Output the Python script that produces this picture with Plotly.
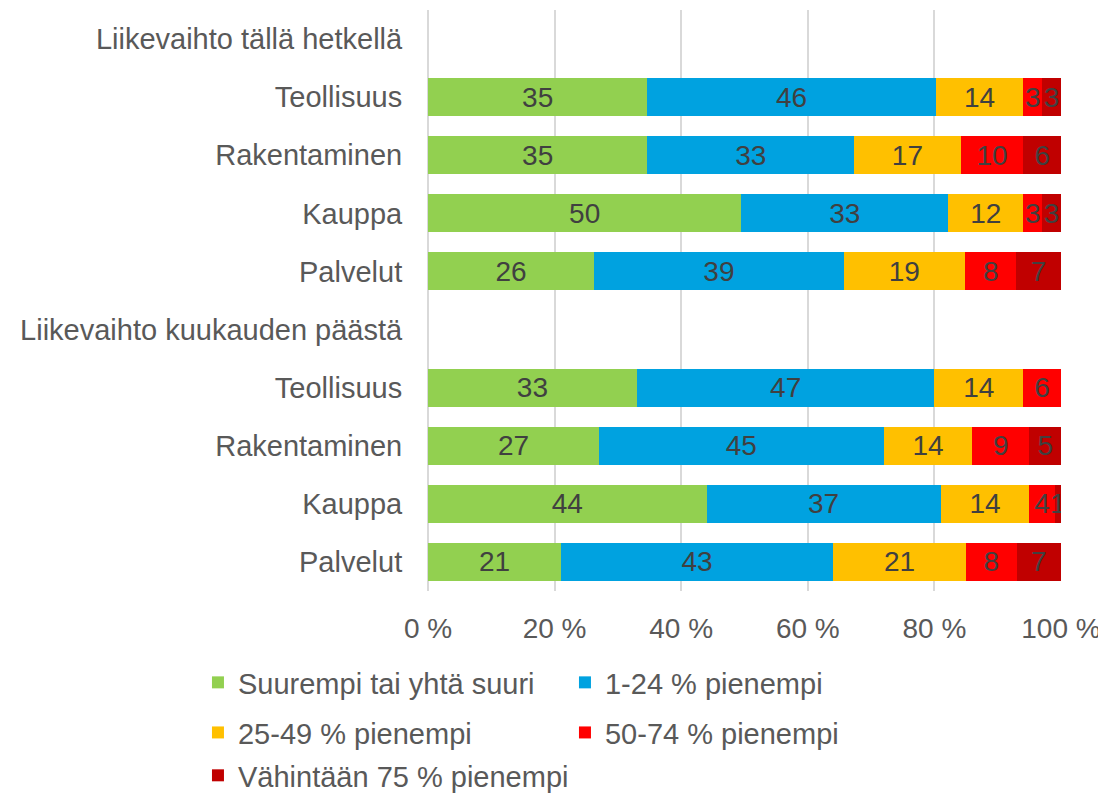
import plotly.graph_objects as go

rows = ["Liikevaihto tällä hetkellä", "Teollisuus", "Rakentaminen", "Kauppa", "Palvelut",
        "Liikevaihto kuukauden päästä", "Teollisuus", "Rakentaminen", "Kauppa", "Palvelut"]

series_names = ["Suurempi tai yhtä suuri", "1-24 % pienempi", "25-49 % pienempi",
                "50-74 % pienempi", "Vähintään 75 % pienempi"]
colors = ["#92D050", "#00A2E0", "#FFC000", "#FF0000", "#C00000"]
legend_ids = ["legend", "legend", "legend2", "legend2", "legend3"]

suurempi = [None, 35, 35, 50, 26, None, 33, 27, 44, 21]
p1_24 = [None, 46, 33, 33, 39, None, 47, 45, 37, 43]
p25_49 = [None, 14, 17, 12, 19, None, 14, 14, 14, 21]
p50_74 = [None, 3, 10, 3, 8, None, 6, 9, 4, 8]
p75 = [None, 3, 6, 3, 7, None, None, 5, 1, 7]

all_values = [suurempi, p1_24, p25_49, p50_74, p75]
ypos = list(range(len(rows)))

FONT = "Liberation Sans, Arial"

fig = go.Figure()
for name, vals, col, lg in zip(series_names, all_values, colors, legend_ids):
    fig.add_trace(go.Bar(
        y=ypos, x=vals, name=name, orientation="h", legend=lg,
        marker=dict(color=col, line=dict(width=0)),
        text=[("" if v is None else str(v)) for v in vals],
        textposition="inside", insidetextanchor="middle",
        constraintext="none",
        textfont=dict(color="#404040", size=28, family=FONT),
        hoverinfo="skip",
    ))

leg_common = dict(orientation="h", xanchor="left", yanchor="middle",
                  traceorder="normal", entrywidthmode="pixels",
                  font=dict(size=29, color="#595959", family=FONT),
                  bgcolor="rgba(0,0,0,0)")
legx = -0.3634

fig.update_layout(
    barmode="stack", barnorm="percent", bargap=0.345,
    width=1106, height=795,
    margin=dict(l=420, r=53, t=2, b=209),
    plot_bgcolor="white", paper_bgcolor="white",
    font=dict(family=FONT, size=29, color="#595959"),
    xaxis=dict(range=[0, 100], dtick=20, ticksuffix=" %", showgrid=True,
               gridcolor="#D9D9D9", gridwidth=1.5, zeroline=True, zerolinecolor="#D9D9D9",
               zerolinewidth=1.5, ticks="outside", ticklen=12, tickcolor="rgba(0,0,0,0)",
               tickfont=dict(size=28, color="#595959"), fixedrange=True),
    yaxis=dict(tickmode="array", tickvals=ypos, ticktext=rows, autorange="reversed",
               ticks="outside", ticklen=19, tickcolor="rgba(0,0,0,0)",
               showgrid=False, zeroline=False, tickfont=dict(size=29, color="#595959")),
    legend=dict(x=legx, y=-0.1575, entrywidth=322, **leg_common),
    legend2=dict(x=legx, y=-0.2437, entrywidth=322, **leg_common),
    legend3=dict(x=legx, y=-0.3175, entrywidth=420, **leg_common),
    showlegend=True,
)
fig.write_html("out.html")
